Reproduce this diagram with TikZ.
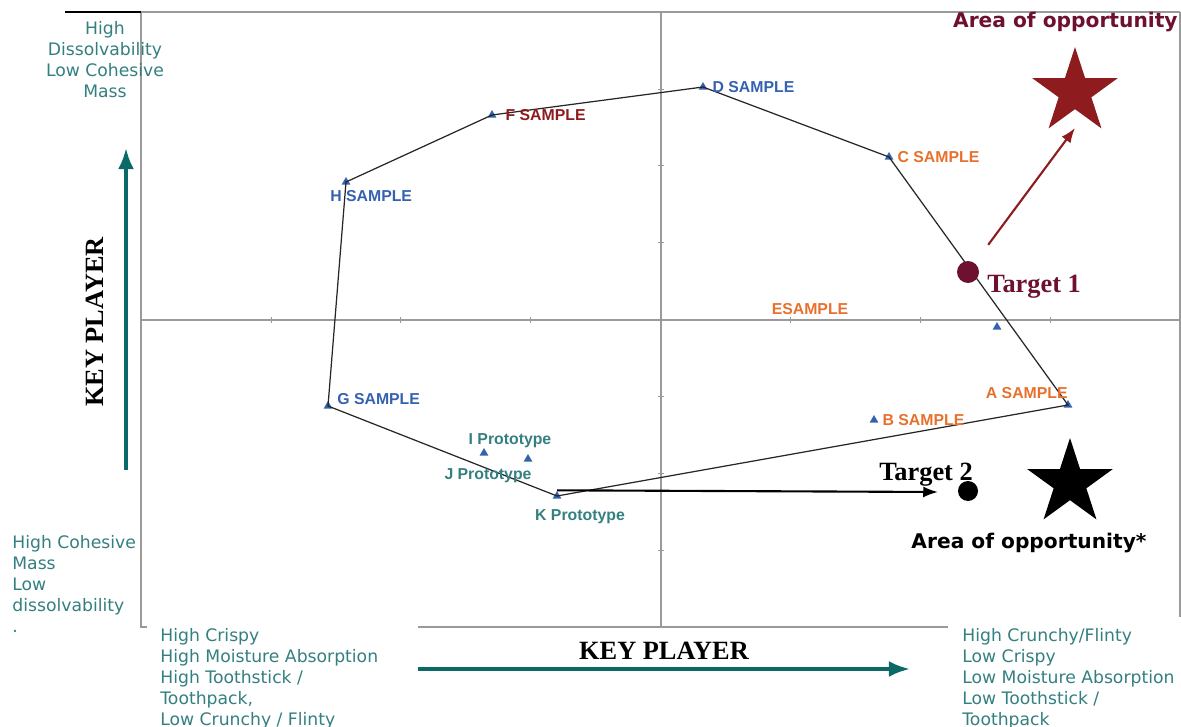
\documentclass[tikz,border=0pt]{standalone}
\usepackage{fontspec}
\usepackage{xcolor}
\usepackage{tikz}
\usetikzlibrary{arrows.meta,positioning,shapes.geometric}
\newfontfamily\verdfont{DejaVu Sans}
\newfontfamily\arialfont{Liberation Sans}
\newfontfamily\timesfont{Liberation Serif}
\definecolor{plotteal}{HTML}{347F80}
\definecolor{arrowteal}{HTML}{0B6A68}
\definecolor{plotblue}{HTML}{3562B0}
\definecolor{plotorange}{HTML}{E8702E}
\definecolor{plotmaroon}{HTML}{6E1030}
\definecolor{plotred}{HTML}{8E1B1E}
\definecolor{framegray}{HTML}{9A9A9A}

\begin{document}
\begin{tikzpicture}[x=0.02cm, y=-0.02cm, >=Latex,
  pt/.style={regular polygon, regular polygon sides=3, fill=plotblue, inner sep=0pt, minimum size=0.2cm},
  smp/.style={font=\arialfont\bfseries\fontsize{9}{10}\selectfont, inner sep=0pt},
  side/.style={font=\verdfont\fontsize{9.8}{11.95}\selectfont, text=plotteal, inner sep=0pt},
  axname/.style={font=\timesfont\bfseries\fontsize{15}{18}\selectfont, inner sep=0pt},
  tgt/.style={font=\timesfont\bfseries\fontsize{15}{18}\selectfont, inner sep=0pt},
  dot/.style={circle, inner sep=0pt},
  opp/.style={star, star points=5, star point ratio=2.618, inner sep=0pt, minimum size=1.8cm},
  opptext/.style={font=\verdfont\bfseries\fontsize{11.5}{14}\selectfont, inner sep=0pt}]
  \useasboundingbox (0,0) rectangle (1181,727);

  % frame and axes
  \draw[framegray, line width=0.6pt] (141,12) -- (1180,12) (141,12) -- (141,627) -- (147,627)
    (418,627) -- (948,627) (1180,12) -- (1180,617);
  \draw[line width=1.2pt] (65,12) -- (141,12);
  \draw[framegray, line width=0.6pt] (141,320) -- (1180,320) (661,12) -- (661,627);
  \foreach \i in {0,...,8} {
    \draw[framegray, line width=0.4pt] ({141+129.9*\i},317) -- ({141+129.9*\i},323);
    \draw[framegray, line width=0.4pt] (658,{12+76.9*\i}) -- (664,{12+76.9*\i});
  }

  % samples
  \node[pt] (d) at (703,87) {};
  \node[pt] (f) at (492,115) {};
  \node[pt] (h) at (346,182) {};
  \node[pt] (c) at (889,157) {};
  \node[pt] (a) at (1068,405) {};
  \node[pt] (b) at (874,420) {};
  \node[pt] (e) at (997,327) {};
  \node[pt] (g) at (328,406) {};
  \node[pt] (i) at (484,453) {};
  \node[pt] (j) at (528,459) {};
  \node[pt] (k) at (557,496) {};
  \draw[line width=0.7pt, black!85] (d.center) -- (c.center) -- (a.center) -- (k.center)
    -- (g.center) -- (h.center) -- (f.center) -- cycle;

  \node[smp, text=plotblue, right=0.12cm of d] (dl) {D SAMPLE};
  \node[smp, text=plotred, right=0.2cm of f] (fl) {F SAMPLE};
  \node[smp, text=plotblue, anchor=north west] (hl) at (330,190) {H SAMPLE};
  \node[smp, text=plotorange, right=0.1cm of c] (cl) {C SAMPLE};
  \node[smp, text=plotorange, anchor=east] (al) at (1068,393) {A SAMPLE};
  \node[smp, text=plotorange, right=0.1cm of b] (bl) {B SAMPLE};
  \node[smp, text=plotorange] (el) at (810,309) {ESAMPLE};
  \node[smp, text=plotblue, anchor=west] (gl) at (337,399) {G SAMPLE};
  \node[smp, text=plotteal] (il) at (510,441) {I Prototype};
  \node[smp, text=plotteal] (jl) at (488,476) {J Prototype};
  \node[smp, text=plotteal] (kl) at (580,517) {K Prototype};

  % targets and areas of opportunity
  \node[dot, fill=plotmaroon, minimum size=0.44cm] (t1) at (968,272) {};
  \node[tgt, text=plotmaroon, anchor=west] (t1l) at (987,287) {Target 1};
  \node[dot, fill=black, minimum size=0.4cm] (t2) at (968,491) {};
  \node[tgt] (t2l) at (926,475) {Target 2};
  \node[opp, fill=plotred] (s1) at (1075,92) {};
  \node[opp, fill=black] (s2) at (1070,483) {};
  \node[opptext, text=plotmaroon, anchor=east] (s1l) at (1178,22) {Area of opportunity};
  \node[opptext] (s2l) at (1029,543) {Area of opportunity*};
  \coordinate (s1tip) at (1075,128);
  \coordinate (t2tip) at (938,492);
  \draw[->, plotred, line width=1.2pt, shorten <=0.45cm] (t1) -- (s1tip);
  \draw[->, line width=1.2pt] (k.north) -- (t2tip);

  % axis names and directions
  \node[axname, rotate=90] (yname) at (95,322) {KEY PLAYER};
  \node[axname] (xname) at (664,651) {KEY PLAYER};
  \coordinate (ylow) at (126,470);
  \coordinate (yhigh) at (126,148);
  \coordinate (xlow) at (418,669);
  \coordinate (xhigh) at (910,669);
  \draw[->, arrowteal, line width=2pt] (ylow) -- (yhigh);
  \draw[->, arrowteal, line width=2pt] (xlow) -- (xhigh);

  \node[side, align=center, anchor=north] (topl) at (105,21) {High\\Dissolvability\\Low Cohesive\\Mass};
  \node[side, align=left, anchor=north west] (botl) at (12,535) {High Cohesive\\Mass\\Low\\dissolvability\\.};
  \node[side, align=left, anchor=north west] (crispy) at (160,628) {High Crispy\\High Moisture Absorption\\High Toothstick /\\Toothpack,\\Low Crunchy / Flinty};
  \node[side, align=left, anchor=north west] (crunchy) at (962,628) {High Crunchy/Flinty\\Low Crispy\\Low Moisture Absorption\\Low Toothstick /\\Toothpack};
\end{tikzpicture}
\end{document}
